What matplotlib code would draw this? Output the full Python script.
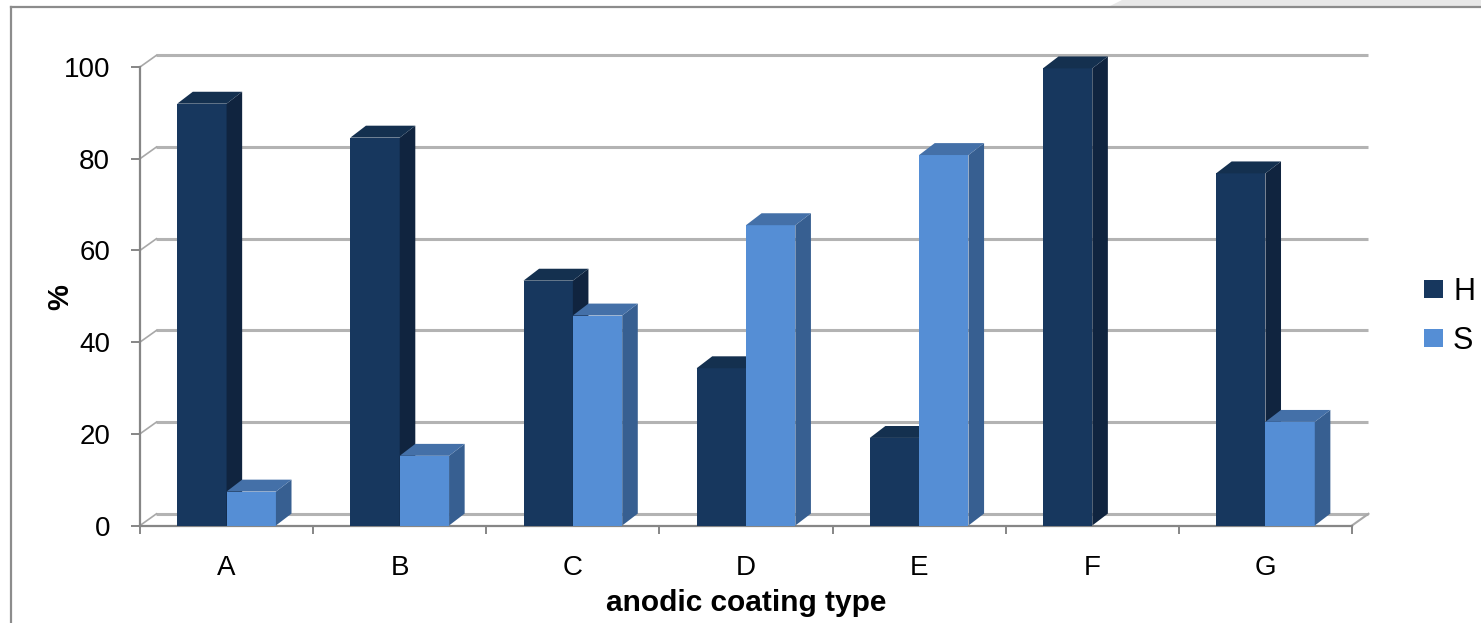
import numpy as np
import matplotlib
matplotlib.use('Agg')
import matplotlib.pyplot as plt
from matplotlib.patches import Polygon, Patch
from matplotlib.lines import Line2D

# ---- data ----
categories = ['A', 'B', 'C', 'D', 'E', 'F', 'G']
series_names = ['H', 'S']
h_values = [92.0, 84.6, 53.4, 34.3, 19.1, 99.7, 76.8]
s_values = [7.4, 15.2, 45.8, 65.5, 80.8, 0.0, 22.6]
y_ticks = [0, 20, 40, 60, 80, 100]
x_title = 'anodic coating type'
y_title = '%'

plt.rcParams['font.family'] = ['Liberation Sans', 'DejaVu Sans']

W, H = 1481, 623
fig = plt.figure(figsize=(W / 100, H / 100), dpi=100)
fig.patch.set_facecolor('white')


def fx(px):
    return px / W


def fy(py):
    return 1 - py / H


# chart-area border (cropped) and shading at top-right
fig.add_artist(Polygon([(fx(1108), fy(7)), (fx(1122), 1.0), (1.0, 1.0), (1.0, fy(7))],
                       closed=True, transform=fig.transFigure, facecolor='#e8e8e8',
                       edgecolor='none', zorder=0))
fig.add_artist(Line2D([fx(11), fx(11)], [fy(7), 0], color='#8c8c8c', lw=1.6,
                      transform=fig.transFigure))
fig.add_artist(Line2D([fx(11), 1.0], [fy(7), fy(7)], color='#8c8c8c', lw=1.6,
                      transform=fig.transFigure))

ax = fig.add_axes([fx(140), fy(525.5), fx(1352) - fx(140), fy(67) - fy(525.5)])
n = len(categories)
x = np.arange(n)
ax.set_xlim(-0.5, n - 0.5)
ax.set_ylim(0, 100)
ax.set_facecolor('none')

# 3D depth offsets (data units)
wall_dx, wall_dy = 0.095, 2.55
bar_dx, bar_dy = 0.09, 2.6

grid_col = '#b3b3b3'
axis_col = '#868686'

# back-wall gridlines and side-wall stubs
for v in y_ticks:
    ax.plot([-0.5 + wall_dx, n - 0.5 + wall_dx], [v + wall_dy, v + wall_dy],
            color=grid_col, lw=2.2, clip_on=False, zorder=1, solid_capstyle='butt')
    ax.plot([-0.5, -0.5 + wall_dx], [v, v + wall_dy], color='#a8a8a8', lw=1.2,
            clip_on=False, zorder=1)
ax.plot([n - 0.5, n - 0.5 + wall_dx], [0, wall_dy], color='#a8a8a8', lw=1.5,
        clip_on=False, zorder=1)

# bars
bw = 0.285
face_cols = {
    'H': ('#17375e', '#10243f', '#14304f'),
    'S': ('#558ed5', '#375f91', '#4470a8'),
}
z = 3
for i in range(n):
    for j, (name, vals) in enumerate(zip(series_names, [h_values, s_values])):
        v = vals[i]
        if v <= 0:
            continue
        left = x[i] - bw + j * bw
        front, side, top = face_cols[name]
        ax.bar(left, v, width=bw, align='edge', color=front, zorder=z,
               clip_on=False, linewidth=0)
        r = left + bw
        ax.add_patch(Polygon([(r, 0), (r + bar_dx, bar_dy), (r + bar_dx, v + bar_dy), (r, v)],
                             closed=True, facecolor=side, edgecolor='none',
                             zorder=z, clip_on=False))
        ax.add_patch(Polygon([(left, v), (left + bar_dx, v + bar_dy),
                              (r + bar_dx, v + bar_dy), (r, v)],
                             closed=True, facecolor=top, edgecolor='none',
                             zorder=z, clip_on=False))
        z += 1

# axes / ticks
for s in ['top', 'right']:
    ax.spines[s].set_visible(False)
for s in ['left', 'bottom']:
    ax.spines[s].set_color(axis_col)
    ax.spines[s].set_linewidth(1.6)
    ax.spines[s].set_zorder(2)

ax.set_yticks(y_ticks)
ax.set_yticklabels([str(t) for t in y_ticks])
ax.tick_params(axis='y', direction='out', length=6.5, width=1.4, color=axis_col,
               pad=15, labelsize=20)

ax.set_xticks(x)
ax.set_xticklabels(categories)
ax.set_xticks(np.arange(n + 1) - 0.5, minor=True)
ax.tick_params(axis='x', which='major', length=0, pad=21, labelsize=20)
ax.tick_params(axis='x', which='minor', direction='out', length=5.5, width=1.4,
               color=axis_col)

fig.text(fx(746), fy(603), x_title, ha='center', va='center', fontsize=21.5,
         fontweight='bold')
fig.text(fx(60), fy(297), y_title, ha='center', va='center', fontsize=21,
         fontweight='bold', rotation=90)

handles = [Patch(facecolor=face_cols[nm][0], edgecolor='none') for nm in series_names]
ax.legend(handles, series_names, loc='center left',
          bbox_to_anchor=(fx(1424), fy(316.5)), bbox_transform=fig.transFigure,
          frameon=False, fontsize=22, handlelength=0.62, handleheight=0.52,
          handletextpad=0.33, labelspacing=0.62, borderpad=0, borderaxespad=0)

fig.savefig('out.png', dpi=100)
